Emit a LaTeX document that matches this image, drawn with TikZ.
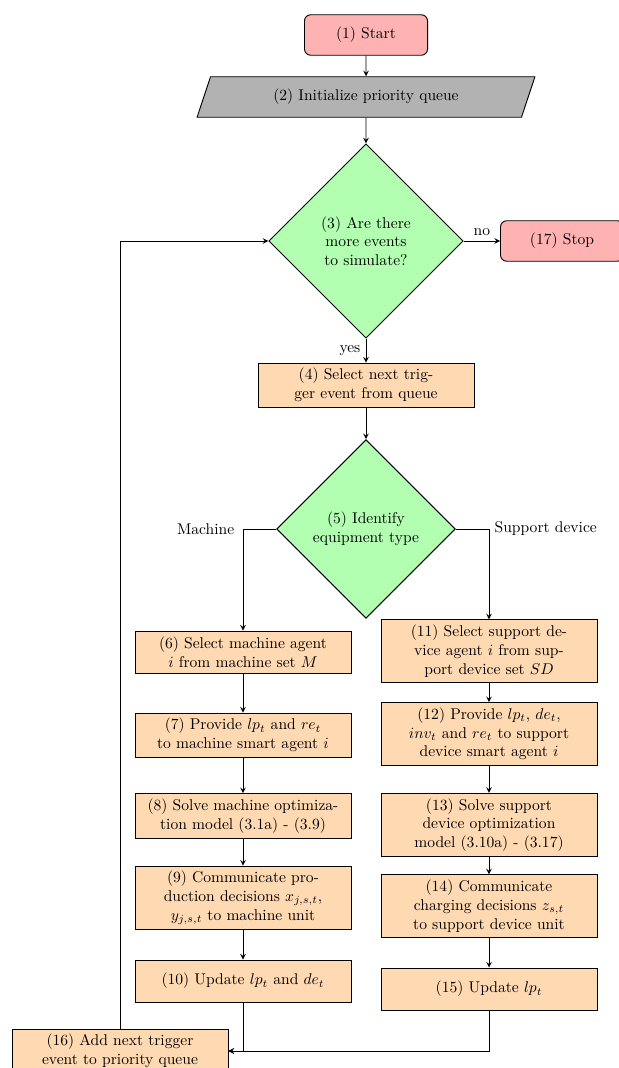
\documentclass[tikz,border=0pt]{standalone}
\usetikzlibrary{shapes.geometric}

\tikzset{
    startstop/.style={rectangle, rounded corners, draw=black, semithick, fill=red!30, minimum width=79pt, minimum height=26pt, align=center},
    io/.style={trapezium, trapezium left angle=72, trapezium right angle=108, trapezium stretches=true, draw=black, semithick, fill=black!30, minimum width=217pt, minimum height=26pt},
    decision/.style={diamond, aspect=1, draw=black, semithick, fill=green!30, text width=2.5cm, inner sep=5.5pt, align=center},
    process/.style={rectangle, draw=black, semithick, fill=orange!30, text width=132pt, minimum height=27pt, align=center},
    arrow/.style={semithick, -stealth}
}

\begin{document}
\begin{tikzpicture}[x=0.642pt, y=-0.642pt]
            \useasboundingbox (0,0) rectangle (619,1068);
            \clip (0,0) rectangle (619,1068);

            \node[startstop] (start) at (366,35) {(1) Start};
            \node[io] (init) at (366,97) {(2) Initialize priority queue};
            \node[decision] (more) at (366,241) {(3) Are there more events to simulate?};
            \node[startstop] (stop) at (562,241) {(17) Stop};
            \node[process] (next) at (366,385) {(4) Select next trigger event from queue};
            \node[decision] (type) at (366,529) {(5) Identify equipment type};

            % machine branch
            \node[process] (mach1) at (243,652) {(6) Select machine agent $i$ from machine set $M$};
            \node[process] (mach2) at (243,735) {(7) Provide $lp_t$ and $re_t$ to machine smart agent $i$};
            \node[process] (mach3) at (243,816) {(8) Solve machine optimization model (3.1a) - (3.9)};
            \node[process] (mach4) at (243,898) {(9) Communicate production decisions $x_{j,s,t}$, $y_{j,s,t}$ to machine unit};
            \node[process] (mach5) at (243,981) {(10) Update $lp_t$ and $de_t$};

            % support device branch
            \node[process] (sup1) at (489,651) {(11) Select support device agent $i$ from support device set $SD$};
            \node[process] (sup2) at (489,734) {(12) Provide $lp_t$, $de_t$, $inv_t$ and $re_t$ to support device smart agent $i$};
            \node[process] (sup3) at (489,825) {(13) Solve support device optimization model (3.10a) - (3.17)};
            \node[process] (sup4) at (489,906) {(14) Communicate\\ charging decisions $z_{s,t}$\\ to support device unit};
            \node[process] (sup5) at (489,989) {(15) Update $lp_t$};

            \node[process] (add) at (120,1051) {(16) Add next trigger event to priority queue};

            \draw[arrow] (start) -- (init);
            \draw[arrow] (init) -- (more);
            \draw[arrow] (more) -- node[above] {no} (stop);
            \draw[arrow] (more) -- node[left] {yes} (next);
            \draw[arrow] (next) -- (type);

            \draw[arrow] (type.west) -| node[pos=0.5, left, xshift=-2pt] {Machine} (mach1.north);
            \draw[arrow] (type.east) -| node[pos=0.5, right] {Support device} (sup1.north);

            \draw[arrow] (mach1) -- (mach2);
            \draw[arrow] (mach2) -- (mach3);
            \draw[arrow] (mach3) -- (mach4);
            \draw[arrow] (mach4) -- (mach5);

            \draw[arrow] (sup1) -- (sup2);
            \draw[arrow] (sup2) -- (sup3);
            \draw[arrow] (sup3) -- (sup4);
            \draw[arrow] (sup4) -- (sup5);

            \draw[arrow] (mach5.south) |- (add.east);
            \draw[arrow] (sup5.south) |- (add.east);
            \draw[arrow] (add.north) |- (more.west);
        \end{tikzpicture}
\end{document}
